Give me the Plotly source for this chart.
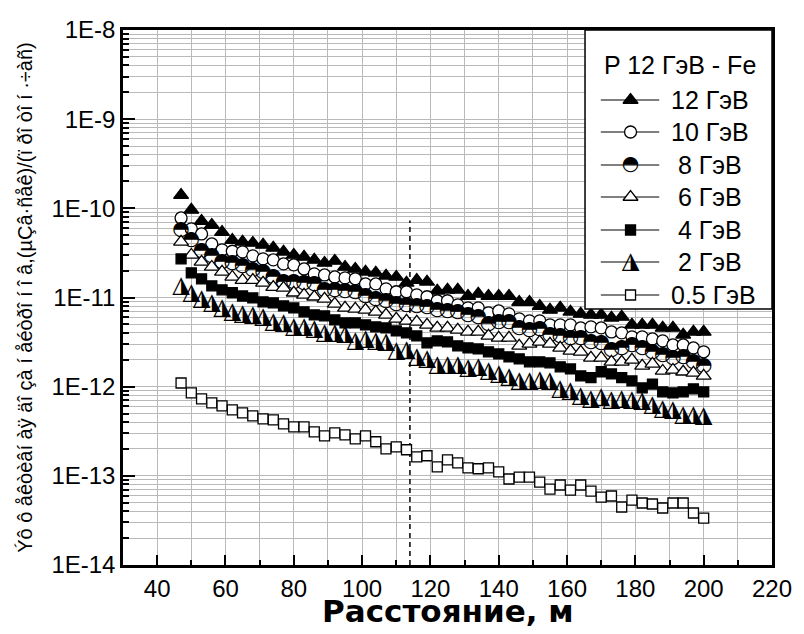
import plotly.graph_objects as go

# ---------------- data ----------------
distance_m = [47, 50, 53, 56, 59, 62, 65, 68, 71, 74, 77, 80, 83, 86, 89, 92, 95, 98,
              101, 104, 107, 110, 113, 116, 119, 122, 125, 128, 131, 134, 137, 140,
              143, 146, 149, 152, 155, 158, 161, 164, 167, 170, 173, 176, 179, 182,
              185, 188, 191, 194, 197, 200]

dose_12gev = [1.41e-10, 9.6e-11, 7.2e-11, 6.5e-11, 5.4e-11, 4.4e-11, 4.2e-11, 4.09e-11,
              3.89e-11, 3.60e-11, 3.25e-11, 3.00e-11, 2.85e-11, 2.64e-11, 2.44e-11, 2.57e-11,
              2.20e-11, 2.09e-11, 1.94e-11, 1.89e-11, 1.75e-11, 1.70e-11, 1.46e-11, 1.57e-11,
              1.50e-11, 1.19e-11, 1.22e-11, 1.22e-11, 1.04e-11, 1.10e-11, 1.04e-11, 1.04e-11,
              1.04e-11, 8.9e-12, 8.9e-12, 8.0e-12, 7.26e-12, 7.65e-12, 6.90e-12, 6.55e-12,
              6.38e-12, 6.38e-12, 5.91e-12, 6.06e-12, 4.93e-12, 4.93e-12, 4.93e-12, 4.56e-12,
              4.56e-12, 3.81e-12, 4.11e-12, 4.11e-12]

dose_10gev = [7.8e-11, 5.88e-11, 5.16e-11, 3.99e-11, 3.42e-11, 3.3e-11, 3.25e-11, 2.93e-11,
              2.71e-11, 2.64e-11, 2.38e-11, 2.32e-11, 2.09e-11, 1.84e-11, 1.79e-11, 1.70e-11,
              1.66e-11, 1.62e-11, 1.42e-11, 1.42e-11, 1.25e-11, 1.16e-11, 1.16e-11, 1.07e-11,
              1.02e-11, 9.2e-12, 9.2e-12, 8.26e-12, 7.65e-12, 7.65e-12, 6.72e-12, 7.07e-12,
              6.55e-12, 5.76e-12, 5.47e-12, 5.47e-12, 4.93e-12, 4.93e-12, 4.93e-12, 4.56e-12,
              4.68e-12, 4.56e-12, 4.11e-12, 4.01e-12, 3.62e-12, 3.62e-12, 3.43e-12, 3.26e-12,
              2.94e-12, 2.94e-12, 2.72e-12, 2.46e-12]

dose_8gev = [5.73e-11, 4.42e-11, 3.33e-11, 2.93e-11, 2.51e-11, 2.44e-11, 2.26e-11, 2.04e-11,
             1.94e-11, 1.70e-11, 1.50e-11, 1.50e-11, 1.46e-11, 1.42e-11, 1.22e-11, 1.22e-11,
             1.19e-11, 1.16e-11, 1.04e-11, 9.65e-12, 9.16e-12, 8.48e-12, 8.26e-12, 8.05e-12,
             7.85e-12, 7.26e-12, 7.07e-12, 6.90e-12, 6.38e-12, 6.06e-12, 5.06e-12, 5.33e-12,
             5.33e-12, 4.56e-12, 4.33e-12, 4.45e-12, 3.81e-12, 3.71e-12, 3.53e-12, 3.53e-12,
             3.18e-12, 3.10e-12, 2.59e-12, 2.72e-12, 2.94e-12, 2.72e-12, 2.46e-12, 2.27e-12,
             2.10e-12, 2.16e-12, 1.90e-12, 1.71e-12]

dose_6gev = [4.20e-11, 3.00e-11, 2.51e-11, 2.20e-11, 1.94e-11, 1.70e-11, 1.57e-11, 1.57e-11,
             1.46e-11, 1.31e-11, 1.28e-11, 1.13e-11, 1.07e-11, 1.02e-11, 9.65e-12, 8.48e-12,
             7.65e-12, 7.45e-12, 7.26e-12, 6.90e-12, 6.38e-12, 5.76e-12, 5.47e-12, 5.33e-12,
             4.93e-12, 4.56e-12, 4.56e-12, 4.33e-12, 4.11e-12, 4.11e-12, 3.71e-12, 3.53e-12,
             3.53e-12, 2.87e-12, 3.02e-12, 3.18e-12, 3.02e-12, 2.72e-12, 2.52e-12, 2.46e-12,
             2.10e-12, 2.10e-12, 1.90e-12, 1.90e-12, 2.00e-12, 1.71e-12, 1.80e-12, 1.50e-12,
             1.54e-12, 1.47e-12, 1.43e-12, 1.32e-12]

dose_4gev = [2.71e-11, 1.89e-11, 1.62e-11, 1.35e-11, 1.22e-11, 1.13e-11, 1.04e-11, 9.90e-12,
             8.93e-12, 8.70e-12, 8.05e-12, 7.65e-12, 6.90e-12, 6.38e-12, 6.22e-12, 5.61e-12,
             5.19e-12, 5.19e-12, 4.93e-12, 4.68e-12, 4.56e-12, 4.22e-12, 4.01e-12, 3.71e-12,
             3.10e-12, 3.26e-12, 3.18e-12, 2.87e-12, 2.72e-12, 2.65e-12, 2.46e-12, 2.33e-12,
             2.16e-12, 2.05e-12, 1.90e-12, 1.90e-12, 1.85e-12, 1.67e-12, 1.58e-12, 1.32e-12,
             1.26e-12, 1.47e-12, 1.39e-12, 1.26e-12, 1.16e-12, 9.69e-13, 1.07e-12, 8.74e-13,
             8.52e-13, 8.74e-13, 9.45e-13, 8.74e-13]

dose_2gev = [1.35e-11, 1.13e-11, 9.65e-12, 8.70e-12, 7.65e-12, 6.90e-12, 6.55e-12, 6.38e-12,
             6.06e-12, 5.33e-12, 5.19e-12, 4.68e-12, 4.68e-12, 4.45e-12, 4.01e-12, 4.01e-12,
             3.91e-12, 3.26e-12, 3.43e-12, 3.26e-12, 3.18e-12, 2.52e-12, 2.59e-12, 2.16e-12,
             2.05e-12, 1.76e-12, 1.76e-12, 1.76e-12, 1.62e-12, 1.67e-12, 1.50e-12, 1.39e-12,
             1.29e-12, 1.16e-12, 1.16e-12, 1.19e-12, 1.16e-12, 9.45e-13, 8.97e-13, 7.89e-13,
             7.30e-13, 7.69e-13, 7.11e-13, 7.30e-13, 7.11e-13, 6.93e-13, 6.25e-13, 5.64e-13,
             5.50e-13, 4.83e-13, 4.83e-13, 4.71e-13]

dose_05gev = [1.10e-12, 8.52e-13, 7.30e-13, 6.58e-13, 6.09e-13, 5.50e-13, 5.09e-13, 4.71e-13,
              4.36e-13, 4.24e-13, 3.83e-13, 3.54e-13, 3.54e-13, 3.11e-13, 2.81e-13, 3.03e-13,
              2.88e-13, 2.60e-13, 2.81e-13, 2.41e-13, 2.01e-13, 2.11e-13, 1.96e-13, 1.63e-13,
              1.68e-13, 1.26e-13, 1.51e-13, 1.40e-13, 1.23e-13, 1.20e-13, 1.23e-13, 1.11e-13,
              9.21e-14, 9.69e-14, 9.69e-14, 8.52e-14, 7.11e-14, 7.89e-14, 6.93e-14, 7.89e-14,
              6.75e-14, 5.78e-14, 5.94e-14, 4.47e-14, 5.35e-14, 4.96e-14, 4.83e-14, 4.36e-14,
              4.96e-14, 4.96e-14, 3.83e-14, 3.36e-14]

series_names = ["12 ГэВ", "10 ГэВ", "8 ГэВ", "6 ГэВ", "4 ГэВ", "2 ГэВ", "0.5 ГэВ"]
series_values = [dose_12gev, dose_10gev, dose_8gev, dose_6gev, dose_4gev, dose_2gev, dose_05gev]
legend_title = "P 12 ГэВ - Fe"

marker_line_x = [114, 114]
marker_line_y = [1e-14, 7.3e-11]

x_tick_vals = [40, 60, 80, 100, 120, 140, 160, 180, 200, 220]
y_tick_vals = [1e-14, 1e-13, 1e-12, 1e-11, 1e-10, 1e-9, 1e-8]
y_tick_text = ["1E-14", "1E-13", "1E-12", "1E-11", "1E-10", "1E-9", "1E-8"]

x_title = "Расстояние, м"
y_title = "Ýô ô åêòèâí àÿ äî çà í åéòðî í î â,(µÇâ·ñåê)/(ï ðî òî í ·÷àñ)"

# ---------------- styles ----------------
# (kind, symbol/glyph, size, fill)
styles = [
    ("marker", "triangle-up", 13, "black"),
    ("marker", "circle", 12, "white"),
    ("glyph", "◓", 20, None),
    ("marker", "triangle-up", 13, "white"),
    ("marker", "square", 10, "black"),
    ("glyph", "◮", 23, None),
    ("marker", "square", 10, "white"),
]

FONT = "Liberation Sans, Arial, sans-serif"
GLYPH_FONT = "DejaVu Sans"
GRID = "#b9b9b9"

fig = go.Figure()

# dashed vertical reference line
fig.add_trace(go.Scatter(x=marker_line_x, y=marker_line_y, mode="lines",
                         line=dict(color="black", width=1.5, dash="5px,4px"),
                         showlegend=False, hoverinfo="skip"))

for name, vals, st in zip(series_names, series_values, styles):
    kind, sym, size, fill = st
    if kind == "marker":
        fig.add_trace(go.Scatter(
            x=distance_m, y=vals, mode="markers", name=name, showlegend=False,
            marker=dict(symbol=sym, size=size, color=fill,
                        line=dict(color="black", width=1.3))))
    else:
        fig.add_trace(go.Scatter(
            x=distance_m, y=vals, mode="text", name=name, showlegend=False,
            text=[sym] * len(vals), textposition="middle center",
            textfont=dict(family=GLYPH_FONT, size=size, color="black")))

# ---------------- custom legend on an inset axis (plot-area pixel units) ----------------
box_x0, box_x1, box_y0, box_y1 = 467, 656, 0, 279
fig.add_trace(go.Scatter(
    x=[box_x0, box_x1, box_x1, box_x0, box_x0],
    y=[box_y0, box_y0, box_y1, box_y1, box_y0],
    mode="lines", fill="toself", fillcolor="white",
    line=dict(color="black", width=1.5),
    xaxis="x2", yaxis="y2", showlegend=False, hoverinfo="skip"))

row_y = [70, 102, 135, 167, 200, 232, 265]
sym_x = 513
line_x0, line_x1 = 483, 542
text_x = 552
annotations = []
for name, st, ry in zip(series_names, styles, row_y):
    kind, sym, size, fill = st
    fig.add_trace(go.Scatter(x=[line_x0, line_x1], y=[ry, ry], mode="lines",
                             line=dict(color="black", width=1),
                             xaxis="x2", yaxis="y2", showlegend=False, hoverinfo="skip"))
    if kind == "marker":
        fig.add_trace(go.Scatter(x=[sym_x], y=[ry], mode="markers",
                                 marker=dict(symbol=sym, size=size, color=fill,
                                             line=dict(color="black", width=1.3)),
                                 xaxis="x2", yaxis="y2", showlegend=False, hoverinfo="skip"))
    else:
        fig.add_trace(go.Scatter(x=[sym_x], y=[ry], mode="text", text=[sym],
                                 textposition="middle center",
                                 textfont=dict(family=GLYPH_FONT, size=size, color="black"),
                                 xaxis="x2", yaxis="y2", showlegend=False, hoverinfo="skip"))
    label = name if len(name.split()[0]) > 1 else "\u00a0" + name
    annotations.append(dict(x=text_x, y=ry, xref="x2", yref="y2", text=label,
                            showarrow=False, xanchor="left", yanchor="middle",
                            font=dict(family=FONT, size=25, color="black")))

annotations.append(dict(x=484, y=35, xref="x2", yref="y2", text=legend_title,
                        showarrow=False, xanchor="left", yanchor="middle",
                        font=dict(family=FONT, size=25, color="black")))

annotations.append(dict(x=0.5, y=-0.086, xref="paper", yref="paper", text="<b>" + x_title + "</b>",
                        showarrow=False, xanchor="center", yanchor="middle",
                        font=dict(family="DejaVu Sans", size=31, color="black")))
annotations.append(dict(x=-0.152, y=0.5, xref="paper", yref="paper", text=y_title,
                        textangle=-90, showarrow=False, xanchor="center", yanchor="middle",
                        font=dict(family=FONT, size=20, color="black")))

fig.update_layout(
    width=804, height=634,
    margin=dict(l=123, r=25, t=30, b=69),
    paper_bgcolor="white", plot_bgcolor="rgba(0,0,0,0)",
    showlegend=False,
    annotations=annotations,
    xaxis=dict(range=[30, 220], tickmode="array", tickvals=x_tick_vals,
               ticks="inside", ticklen=10, tickwidth=2, tickcolor="black",
               showline=True, linecolor="black", linewidth=2.5, mirror=True,
               showgrid=True, gridcolor=GRID, gridwidth=1, zeroline=False,
               tickfont=dict(family=FONT, size=24, color="black"),
               minor=dict(tickmode="linear", tick0=30, dtick=10, ticks="inside", ticklen=5,
                          tickwidth=2, tickcolor="black",
                          showgrid=True, gridcolor=GRID, gridwidth=1)),
    yaxis=dict(type="log", range=[-14, -8], tickmode="array",
               tickvals=y_tick_vals, ticktext=y_tick_text,
               ticks="inside", ticklen=12, tickwidth=2, tickcolor="black",
               showline=True, linecolor="black", linewidth=2.5, mirror=True,
               showgrid=True, gridcolor=GRID, gridwidth=1, zeroline=False,
               tickfont=dict(family=FONT, size=24, color="black"),
               minor=dict(dtick="D1", ticks="inside", ticklen=6, tickwidth=1.5,
                          tickcolor="black", showgrid=True, gridcolor=GRID, gridwidth=1)),
    xaxis2=dict(domain=[0, 1], range=[0, 656], visible=False, anchor="y2", fixedrange=True),
    yaxis2=dict(domain=[0, 1], range=[535, 0], visible=False, anchor="x2", fixedrange=True),
)

fig.write_html("out.html")
